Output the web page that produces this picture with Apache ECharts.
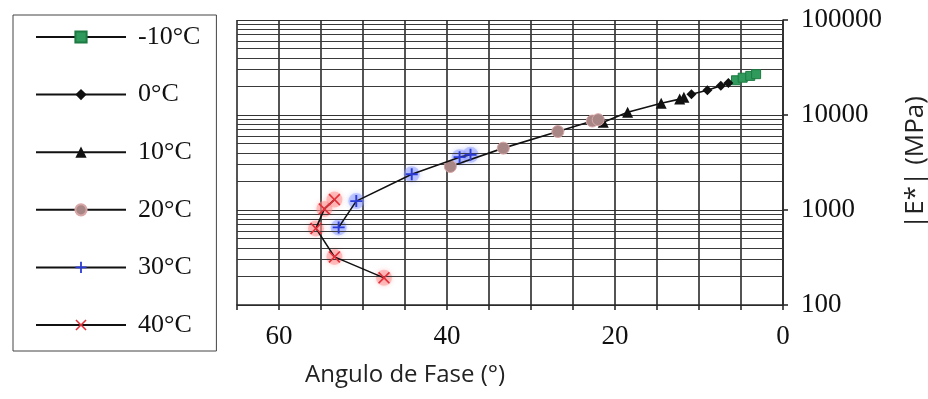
<!DOCTYPE html>
<html>
<head>
<meta charset="utf-8">
<script src="https://cdn.jsdelivr.net/npm/echarts@6/dist/echarts.min.js"></script>
<style>
  html, body { margin: 0; padding: 0; background: #fff; }
  #chart { width: 928px; height: 399px; }
</style>
</head>
<body>
<div id="chart"></div>
<script>
// Black space diagram: phase angle (deg) vs dynamic modulus |E*| (MPa)
const seriesNames = ['-10°C', '0°C', '10°C', '20°C', '30°C', '40°C'];

const phaseM10 = [5.6, 4.8, 3.9, 3.2];
const modM10   = [23200, 24700, 25800, 26900];

const phase0 = [10.9, 9.0, 7.4, 6.5];
const mod0   = [16500, 18200, 20300, 21700];

const phase10 = [21.4, 18.5, 14.5, 12.3, 11.8];
const mod10   = [8400, 10700, 13300, 14700, 15400];

const phase20 = [39.6, 33.3, 26.8, 22.7, 22.0];
const mod20   = [2870, 4480, 6700, 8640, 8930];

const phase30 = [52.9, 50.8, 44.2, 38.5, 37.2];
const mod30   = [656, 1240, 2380, 3600, 3810];

const phase40 = [47.5, 53.4, 55.6, 54.6, 53.4];
const mod40   = [193, 321, 640, 1026, 1286];

const xTickLabels = [0, 20, 40, 60];
const yTickLabels = [100, 1000, 10000, 100000];
// log-paper rulings between the decades
const minorGridValues = [
  200, 300, 400, 500, 600, 700, 800, 900,
  2000, 3000, 4000, 5000, 6000, 7000, 8000, 9000,
  20000, 30000, 40000, 50000, 60000, 70000, 80000, 90000
];

function pairs(xs, ys) { return xs.map((x, i) => [x, ys[i]]); }

const SERIF = '"Liberation Serif", "Times New Roman", serif';
const SANS = '"Open Sans", "Noto Sans", sans-serif';
const LINE = { color: '#111', width: 1.6 };
const RULE = { color: '#2a2a2a', width: 1.6 };
const PLUS = 'path://M4.2,0H5.8V4.2H10V5.8H5.8V10H4.2V5.8H0V4.2H4.2Z';
const CROSS = 'path://M1,0L5,4L9,0L10,1L6,5L10,9L9,10L5,6L1,10L0,9L4,5L0,1Z';

const chart = echarts.init(document.getElementById('chart'), null, { renderer: 'canvas' });

chart.setOption({
  animation: false,
  backgroundColor: '#fff',
  grid: { left: 237, right: 145, top: 20, bottom: 94, outerBoundsMode: 'none' },
  legend: {
    data: seriesNames,
    orient: 'vertical',
    left: 13,
    top: 15,
    padding: [9, 16, 13, 22],
    itemWidth: 90,
    itemHeight: 14,
    itemGap: 31.6,
    borderColor: '#444',
    borderWidth: 1,
    textStyle: { fontFamily: SERIF, fontSize: 26, color: '#111', lineHeight: 26, padding: [0, 0, 0, 7] },
    inactiveColor: '#111'
  },
  // x-axis title, set off to the left of the axis centre
  graphic: [{
    type: 'text',
    left: 305,
    top: 363,
    style: { text: 'Angulo de Fase (°)', font: '24px "Open Sans", sans-serif', fill: '#222' }
  }],
  xAxis: {
    type: 'value',
    inverse: true,
    min: 0,
    max: 65,
    interval: 5,
    axisLine: { show: true, onZero: false, lineStyle: RULE },
    axisTick: { show: true, length: 5, lineStyle: RULE },
    axisLabel: {
      margin: 18,
      fontFamily: SERIF, fontSize: 27, color: '#111',
      formatter: v => (xTickLabels.indexOf(v) >= 0 ? String(v) : '')
    },
    splitLine: { show: true, lineStyle: RULE }
  },
  yAxis: {
    type: 'log',
    logBase: 10,
    position: 'right',
    min: 100,
    max: 100000,
    name: '|E*| (MPa)',
    nameLocation: 'middle',
    nameRotate: 90,
    nameGap: 120,
    nameTextStyle: { fontFamily: SANS, fontSize: 26, color: '#222' },
    axisLine: { show: true, lineStyle: RULE },
    axisTick: { show: true, length: 5, lineStyle: RULE },
    axisLabel: {
      margin: 18,
      fontFamily: SERIF, fontSize: 27, color: '#111',
      formatter: v => (yTickLabels.indexOf(Math.round(v)) >= 0 ? String(Math.round(v)) : '')
    },
    splitLine: { show: true, lineStyle: { color: '#333', width: 1 } }
  },
  series: [
    {
      name: '-10°C', type: 'line', data: pairs(phaseM10, modM10), z: 5,
      symbol: 'rect', symbolSize: 9,
      itemStyle: { color: '#2f9a5c', borderColor: '#1d7a40', borderWidth: 1 },
      lineStyle: LINE
    },
    {
      name: '0°C', type: 'line', data: pairs(phase0, mod0), z: 5,
      symbol: 'diamond', symbolSize: 10,
      itemStyle: { color: '#111' },
      lineStyle: LINE
    },
    {
      name: '10°C', type: 'line', data: pairs(phase10, mod10), z: 5,
      symbol: 'triangle', symbolSize: 11,
      itemStyle: { color: '#111' },
      lineStyle: LINE
    },
    {
      name: '20°C', type: 'line', data: pairs(phase20, mod20), z: 5,
      symbol: 'circle', symbolSize: 12,
      itemStyle: { color: '#a88686', borderColor: '#d9a6a6', borderWidth: 1 },
      lineStyle: LINE
    },
    {
      name: '30°C', type: 'line', data: pairs(phase30, mod30), z: 6,
      symbol: PLUS, symbolSize: 12,
      itemStyle: { color: '#2a3bd6' },
      lineStyle: LINE
    },
    {
      name: '40°C', type: 'line', data: pairs(phase40, mod40), z: 6,
      symbol: CROSS, symbolSize: 12,
      itemStyle: { color: '#e0303a' },
      lineStyle: LINE
    },
    // soft glow discs under the 30°C and 40°C markers
    {
      name: '30°C', type: 'scatter', data: pairs(phase30, mod30), z: 4,
      symbol: 'circle', symbolSize: 16,
      itemStyle: { color: 'rgba(140,155,255,0.6)', shadowBlur: 5, shadowColor: 'rgba(140,155,255,0.8)' }
    },
    {
      name: '40°C', type: 'scatter', data: pairs(phase40, mod40), z: 4,
      symbol: 'circle', symbolSize: 16,
      itemStyle: { color: 'rgba(255,140,140,0.6)', shadowBlur: 5, shadowColor: 'rgba(255,140,140,0.8)' }
    },
    // minor log rulings
    {
      type: 'line', data: [], silent: true, z: 1,
      markLine: {
        silent: true,
        symbol: ['none', 'none'],
        label: { show: false },
        lineStyle: { color: '#3a3a3a', width: 1, type: 'solid' },
        data: minorGridValues.map(v => ({ yAxis: v }))
      }
    }
  ]
});
</script>
</body>
</html>
